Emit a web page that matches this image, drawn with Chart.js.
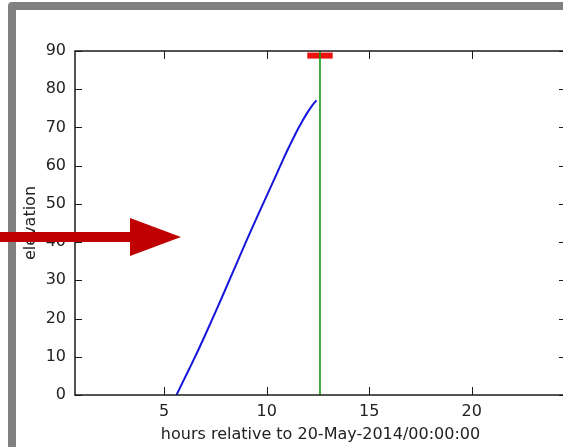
<!DOCTYPE html>
<html>
<head>
<meta charset="utf-8">
<script src="https://cdn.jsdelivr.net/npm/chart.js@4/dist/chart.umd.min.js"></script>
<style>
  html, body { margin: 0; padding: 0; background: #fff; overflow: hidden; width: 563px; height: 447px; }
  #wrap { position: absolute; left: 0; top: 0; width: 600px; height: 447px; }
</style>
</head>
<body>
<div id="wrap"><canvas id="c" width="600" height="447"></canvas></div>
<script>
// ---- data ----
const elevHours = [5.6, 6.0, 6.5, 7.0, 7.5, 8.0, 8.5, 9.0, 9.5, 10.0, 10.5, 10.8, 11.1, 11.4, 11.7, 12.0, 12.2, 12.43];
const elevValues = [0, 4.4, 9.9, 15.7, 21.7, 27.8, 34.0, 40.2, 46.2, 52.1, 58.0, 61.6, 65.0, 68.3, 71.3, 74.0, 75.6, 77.1];
const markerHour = 12.6;
const markerBarHours = [11.98, 13.22];
const markerBarElev = 88.8;
const xTickValues = [5, 10, 15, 20];
const yTickValues = [0, 10, 20, 30, 40, 50, 60, 70, 80, 90];
const xLabel = 'hours relative to 20-May-2014/00:00:00';
const yLabel = 'elevation';

const FONT = 'DejaVu Sans';

const elevPoints = elevHours.map((h, i) => ({ x: h, y: elevValues[i] }));
const greenLine = [{ x: markerHour, y: 0 }, { x: markerHour, y: 90 }];
const redBar = markerBarHours.map(h => ({ x: h, y: markerBarElev }));

const framePlugin = {
  id: 'frame',
  afterDatasetsDraw(chart) {
    const ctx = chart.ctx;
    const a = chart.chartArea;
    const xs = chart.scales.x, ys = chart.scales.y;
    ctx.save();
    // spines
    ctx.strokeStyle = '#1a1a1a';
    ctx.lineWidth = 1.5;
    ctx.strokeRect(a.left, a.top, a.right - a.left, a.bottom - a.top);
    // inward ticks
    ctx.lineWidth = 1;
    ctx.beginPath();
    xTickValues.forEach(v => {
      const px = Math.round(xs.getPixelForValue(v)) + 0.5;
      ctx.moveTo(px, a.bottom); ctx.lineTo(px, a.bottom - 8);
      ctx.moveTo(px, a.top); ctx.lineTo(px, a.top + 8);
    });
    yTickValues.forEach(v => {
      const py = Math.round(ys.getPixelForValue(v)) + 0.5;
      ctx.moveTo(a.left, py); ctx.lineTo(a.left + 7, py);
      ctx.moveTo(a.right, py); ctx.lineTo(a.right - 7, py);
    });
    ctx.stroke();
    ctx.restore();
  },
  afterDraw(chart) {
    const ctx = chart.ctx;
    ctx.save();
    // gray slide frame
    ctx.strokeStyle = '#808080';
    ctx.lineWidth = 8;
    ctx.lineJoin = 'round';
    ctx.beginPath();
    ctx.moveTo(12, 460);
    ctx.lineTo(12, 6);
    ctx.lineTo(620, 6);
    ctx.stroke();
    // red arrow annotation
    ctx.fillStyle = '#c00000';
    ctx.fillRect(0, 232, 131, 10);
    ctx.beginPath();
    ctx.moveTo(130, 218);
    ctx.lineTo(181, 237);
    ctx.lineTo(130, 256);
    ctx.closePath();
    ctx.fill();
    ctx.restore();
  }
};

new Chart(document.getElementById('c'), {
  type: 'scatter',
  data: {
    datasets: [
      { data: elevPoints, showLine: true, borderColor: '#1515dd', borderWidth: 2, pointRadius: 0, cubicInterpolationMode: 'monotone' },
      { data: greenLine, showLine: true, borderColor: '#119911', borderWidth: 1.6, pointRadius: 0 },
      { data: redBar, showLine: true, borderColor: '#ee1111', borderWidth: 6, pointRadius: 0, borderCapStyle: 'butt' }
    ]
  },
  options: {
    responsive: false,
    animation: false,
    devicePixelRatio: 1,
    layout: { padding: { left: 0, top: 51, right: 34, bottom: 0 } },
    plugins: { legend: { display: false }, tooltip: { enabled: false } },
    scales: {
      x: {
        type: 'linear', min: 0.65, max: 24.6,
        grid: { display: false, drawTicks: false },
        border: { display: false },
        afterBuildTicks(s) { s.ticks = xTickValues.map(v => ({ value: v })); },
        afterFit(s) { s.height = 52; },
        ticks: { color: '#222', padding: 7, font: { family: FONT, size: 16 }, maxRotation: 0 },
        title: { display: true, text: xLabel, color: '#222', font: { family: FONT, size: 16 }, padding: { top: 0, bottom: 3 } }
      },
      y: {
        type: 'linear', min: 0, max: 90,
        grid: { display: false, drawTicks: false },
        border: { display: false },
        afterBuildTicks(s) { s.ticks = yTickValues.map(v => ({ value: v })); },
        afterFit(s) { s.width = 75; },
        ticks: { color: '#222', padding: 9, font: { family: FONT, size: 16 } },
        title: { display: true, text: yLabel, color: '#222', font: { family: FONT, size: 16 }, padding: { top: 21, bottom: 0 } }
      }
    }
  },
  plugins: [framePlugin]
});
</script>
</body>
</html>
